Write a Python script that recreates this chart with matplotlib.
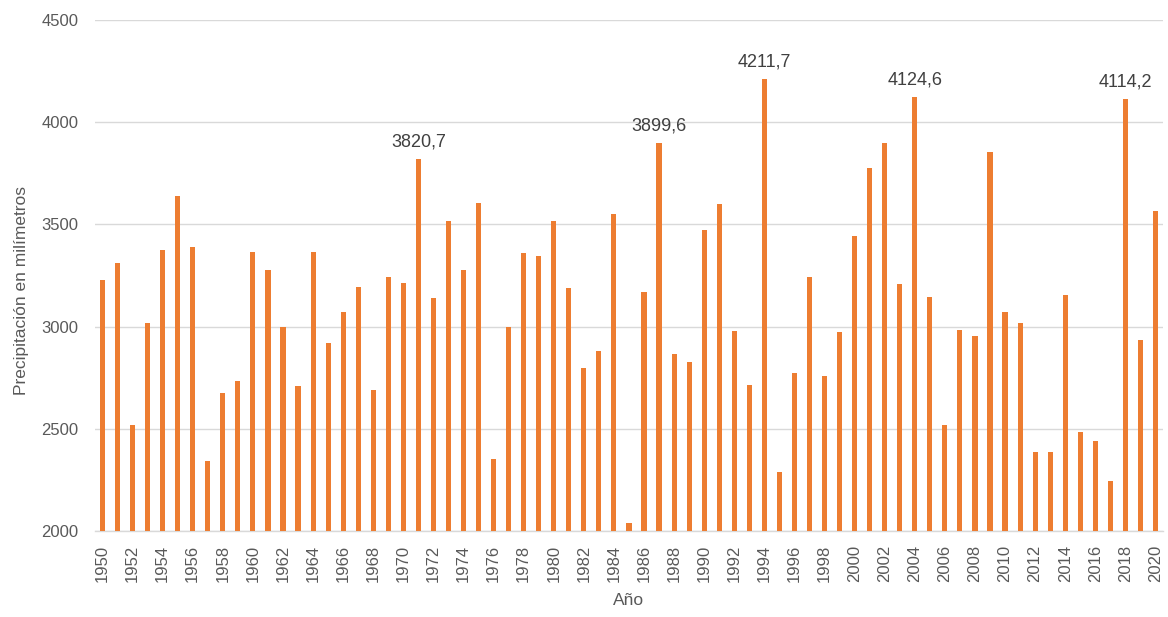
import matplotlib.pyplot as plt
import numpy as np

plt.rcParams["font.family"] = ["Liberation Sans", "DejaVu Sans"]

years = list(range(1950, 2021))
precip = [
    3228, 3310, 2520, 3020, 3375, 3641, 3387, 2343, 2674, 2734,  # 1950s
    3365, 3279, 2998, 2710, 3365, 2918, 3070, 3192, 2688, 3243,  # 1960s
    3214, 3820.7, 3142, 3519, 3279, 3605, 2354, 3000, 3360, 3347,  # 1970s
    3519, 3188, 2796, 2883, 3550, 2038, 3171, 3899.6, 2867, 2826,  # 1980s
    3471, 3598, 2977, 2713, 4211.7, 2290, 2774, 3243, 2759, 2972,  # 1990s
    3445, 3776, 3898, 3210, 4124.6, 3145, 2520, 2982, 2953, 3852,  # 2000s
    3073, 3018, 2388, 2388, 3155, 2485, 2438, 2246, 4114.2, 2932,  # 2010s
    3567,
]
labelled_years = [1971, 1987, 1994, 2004, 2018]

BAR = "#ED7D31"
TXT = "#595959"

fig = plt.figure(figsize=(11.68, 6.17), dpi=100)
ax = fig.add_axes([0.0813, 0.1394, 0.9144, 0.8282])

x = np.arange(len(years))
ax.bar(x, [v - 2000 for v in precip], bottom=2000, width=0.34, color=BAR, zorder=3)

# only the record years get a value label (comma as decimal mark)
for yr in labelled_years:
    i = years.index(yr)
    v = precip[i]
    ax.annotate(f"{v:.1f}".replace(".", ","), (i, v), xytext=(0, 6),
                textcoords="offset points", ha="center", va="bottom",
                fontsize=13, color="#404040")

ax.set_xlim(-0.5, len(years) - 0.5)
ax.set_ylim(2000, 4500)
ax.set_yticks(range(2000, 4501, 500))
ax.set_xticks(x[::2])
ax.set_xticklabels([str(y) for y in years[::2]], rotation=90)
ax.tick_params(axis="x", length=0, labelsize=12, labelcolor=TXT, pad=10)
ax.tick_params(axis="y", length=0, labelsize=12, labelcolor=TXT, pad=12)

ax.grid(axis="y", color="#d9d9d9", lw=1.0, zorder=0)
for s in ["top", "right", "left"]:
    ax.spines[s].set_visible(False)
ax.spines["bottom"].set_color("#d9d9d9")
ax.spines["bottom"].set_linewidth(1.0)

ax.set_ylabel("Precipitación en milímetros", fontsize=12.5, color=TXT)
ax.yaxis.set_label_coords(-0.062, 0.47)
ax.set_xlabel("Año", fontsize=12.5, color=TXT, labelpad=8)

fig.savefig("out.png", dpi=100)
